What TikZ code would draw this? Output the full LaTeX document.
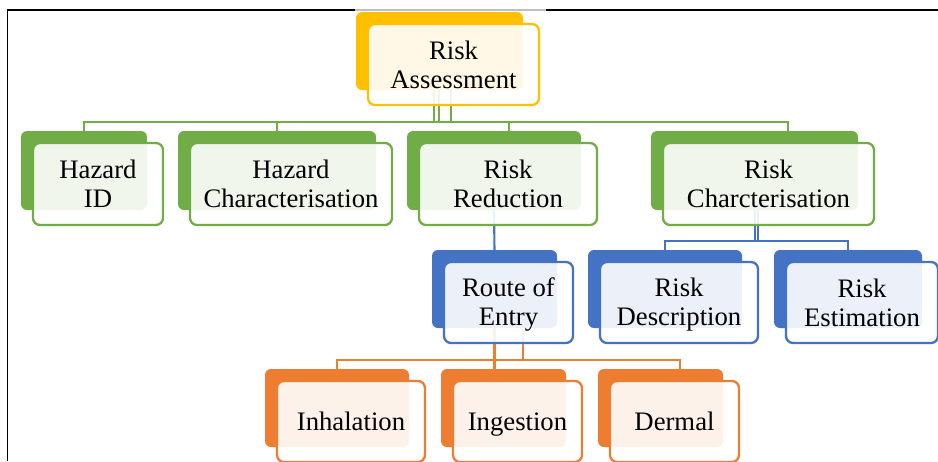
\documentclass[tikz,border=0pt]{standalone}
\usepackage{fontspec}
\setmainfont{Liberation Serif}
\definecolor{cgreen}{HTML}{70AD47}
\definecolor{cyellow}{HTML}{FFC000}
\definecolor{cblue}{HTML}{4472C4}
\definecolor{corange}{HTML}{ED7D31}
\newcommand\boxfont{\fontsize{26.7}{29}\selectfont}
\newcommand\tstr{\rule{0pt}{23.5pt}}
\newcommand\bstr{\rule[-5.5pt]{0pt}{5.5pt}}
\pgfdeclarelayer{bg}
\pgfsetlayers{bg,main}
\tikzset{
  backbox/.style={fill=#1, draw=none, rounded corners=6pt, inner sep=0pt, outer sep=0pt},
  frontbox/.style={draw=#1, fill=white, fill opacity=0.9, text opacity=1, draw opacity=1,
    line width=2.3pt, rounded corners=7pt, inner sep=0pt, outer sep=0pt, align=center, font=\boxfont},
  gc/.style={draw=cgreen, line width=2.1pt},
  bc/.style={draw=cblue, line width=2.1pt},
  oc/.style={draw=corange, line width=2.1pt},
  framel/.style={draw=black, line width=1.4pt}
}
\newcommand\boxpair[7]{%
  \node[backbox=#2, minimum width={(#5)-(#3)}, minimum height={(#6)-(#4)}]
    (#1b) at ({((#3)+(#5))/2},{((#4)+(#6))/2}) {};
  \node[frontbox=#2, minimum width={(#5)-(#3)+4}, minimum height={(#6)-(#4)+3}]
    (#1f) at ({((#3)+(#5))/2+14},{((#4)+(#6))/2+13.5}) {#7};
}
\begin{document}
\begin{tikzpicture}[x=1pt,y=-1pt]
\useasboundingbox (0,0) rectangle (938,461);
% boxes
\boxpair{ra}{cyellow}{356}{12}{523}{90}{\tstr Risk\\Assessment\bstr}
\boxpair{hi}{cgreen}{21}{131}{147}{210}{\tstr Hazard\\ID\bstr}
\boxpair{hc}{cgreen}{178}{131}{376}{210}{\tstr Hazard\\Characterisation\bstr}
\boxpair{rr}{cgreen}{407}{131}{581}{210}{\tstr Risk\\Reduction\bstr}
\boxpair{rc}{cgreen}{651}{131}{858}{210}{\tstr Risk\\Charcterisation\bstr}
\boxpair{ro}{cblue}{432}{250}{557}{328}{\tstr Route of\\Entry\bstr}
\boxpair{rd}{cblue}{588}{250}{742}{328}{\tstr Risk\\Description\bstr}
\boxpair{re}{cblue}{774}{250}{922}{328}{\tstr Risk\\Estimation\bstr}
\boxpair{inh}{corange}{265}{369}{409}{447}{\tstr Inhalation\bstr}
\boxpair{ing}{corange}{441}{369}{566}{447}{\tstr Ingestion\bstr}
\boxpair{der}{corange}{598}{369}{723}{447}{\tstr Dermal\bstr}
% helper coordinates
\coordinate (gy) at (0,122);
\coordinate (by) at (0,241);
\coordinate (oy) at (0,360);
\coordinate (a1) at (434,0);
\coordinate (a2) at (439,0);
\coordinate (a3) at (451,0);
\coordinate (rrin) at (509,0);
\coordinate (rcin) at (788,0);
\coordinate (c1) at (755,0);
\coordinate (c2) at (758,0);
\coordinate (o2) at (523,0);
\coordinate (o3) at (680,0);
\begin{pgfonlayer}{bg}
% frame
\draw[framel] (7.5,461) -- (7.5,10) -- (355,10);
\draw[draw=black!25, line width=1.2pt] (355,10) -- (546,10);
\draw[framel] (546,10) -- (938,10);
% connectors
\draw[gc] (rab.south -| a1) -- (gy -| a1);
\draw[gc] (rab.south -| a2) -- (gy -| a2);
\draw[gc] (rab.south -| a3) -- (gy -| a3);
\draw[gc] (hib.north) -- (hib.north |- gy) -- (gy -| rcin) -- (rcb.north -| rcin);
\draw[gc] (hcb.north) -- (hcb.north |- gy);
\draw[gc] (rrb.north -| rrin) -- (gy -| rrin);
\draw[bc] (rrb.south) -- (rob.north);
\draw[bc] (rcb.south -| c1) -- (by -| c1);
\draw[bc] (rcb.south -| c2) -- (by -| c2);
\draw[bc] (rdb.north) -- (rdb.north |- by) -- (by -| reb.north) -- (reb.north);
\draw[oc] (rob.south) -- (rob.south |- ingb.north);
\draw[oc] (rob.south -| o2) -- (oy -| o2);
\draw[oc] (inhb.north) -- (inhb.north |- oy) -- (oy -| o3) -- (derb.north -| o3);
\end{pgfonlayer}
\end{tikzpicture}
\end{document}
